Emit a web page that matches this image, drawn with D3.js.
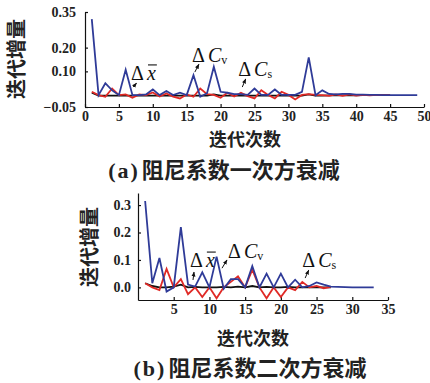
<!DOCTYPE html>
<html>
<head>
<meta charset="utf-8">
<script src="https://cdn.jsdelivr.net/npm/d3@7"></script>
<style>
  body { margin: 0; background: #fff; }
  svg { display: block; }
  .tick text { font-family: "Liberation Serif", serif; font-weight: bold; font-size: 14px; fill: #222; }
  .cjk { font-family: "Noto Sans CJK SC", sans-serif; font-weight: bold; fill: #222; }
  .lab { font-family: "Liberation Serif", serif; font-size: 20px; fill: #111; }
</style>
</head>
<body>
<div id="chart"></div>
<script>
// panel (a): 阻尼系数一次方衰减
var iterA = d3.range(1, 50);
var blueA = [0.32, 0.0, 0.05, 0.02, 0.0, 0.107, 0.0, 0.0, 0.003, 0.024, 0.0, 0.017, 0.0, 0.01, 0.0, 0.084, -0.007, 0.008, 0.119, 0.014, 0.01, 0.004, 0.004, 0.001, 0.028, 0.001, 0.001, 0.024, 0.001, 0.001, 0.001, 0.014, 0.159, 0.0, 0.02, 0.005, 0.003, 0.005, 0.005, 0.002, 0.002, 0.001, 0.001, 0.0, 0.0, 0.0, 0.0, 0.0, 0.0];
var redA = [0.014, 0.0, -0.007, 0.028, 0.0, 0.003, -0.011, 0.003, 0.0, 0.011, -0.006, 0.007, -0.006, -0.014, 0.003, -0.007, 0.028, 0.004, 0.001, -0.011, 0.01, -0.006, 0.01, -0.004, -0.014, 0.021, 0.001, -0.014, 0.014, 0.001, -0.018, 0.001, 0.004, 0.001, 0.0, -0.003, 0.003, -0.003, 0.003, -0.002, 0.001, -0.001, 0.001, 0.0, 0.0];
var blackA = [0.01, -0.002, -0.002, -0.002, -0.002, -0.002, -0.002, -0.002, -0.002, -0.002, -0.002, -0.002, -0.002, -0.002, -0.002, -0.002, -0.002, -0.002, 0.003, -0.002, -0.002, -0.002, -0.002, -0.002, -0.002, -0.002, -0.002, -0.002, -0.002, -0.002, -0.002, -0.002, 0.003, -0.002, -0.002, -0.001, -0.001, -0.001, -0.001, -0.001, 0.0, 0.0, 0.0, 0.0, 0.0];
var xTicksA = [0, 5, 10, 15, 20, 25, 30, 35, 40, 45, 50];
var yTicksA = [-0.05, 0.10, 0.20, 0.35];

// panel (b): 阻尼系数二次方衰减
var iterB = d3.range(1, 34);
var blueB = [0.315, 0.015, 0.107, -0.015, 0.0, 0.22, 0.01, 0.003, 0.055, 0.0, 0.112, -0.005, 0.03, 0.03, 0.0, 0.078, 0.0, 0.05, 0.0, 0.05, 0.0, 0.028, 0.0, 0.005, 0.018, 0.01, 0.003, 0.002, 0.001, 0.0, 0.0, 0.0, 0.0];
var redB = [0.015, 0.0, -0.01, 0.067, 0.0, 0.03, -0.025, 0.0, -0.035, 0.0, -0.04, 0.0, 0.02, 0.04, 0.0, 0.065, 0.0, -0.04, 0.0, -0.035, 0.0, -0.01, 0.02, 0.0, 0.005, -0.003, 0.002];
var blackB = [0.015, 0.005, 0.0, 0.0, 0.003, 0.01, 0.0, 0.002, 0.0, 0.0, 0.0, 0.002, 0.0, 0.003, 0.0, 0.005, 0.0, 0.002, 0.0, 0.0, 0.002, 0.0, 0.0, 0.0, 0.0, 0.0, 0.0];
var xTicksB = [5, 10, 15, 20, 25, 30, 35];
var yTicksB = [0.0, 0.1, 0.2, 0.3];

var W = 430, H = 383;
var svg = d3.select('#chart').append('svg').attr('width', W).attr('height', H);

svg.append('defs').append('marker')
  .attr('id', 'arr').attr('viewBox', '0 0 10 10').attr('refX', 9).attr('refY', 5)
  .attr('markerWidth', 5).attr('markerHeight', 5).attr('orient', 'auto')
  .append('path').attr('d', 'M0,1 L10,5 L0,9 Z').attr('fill', '#111');

function drawPanel(p) {
  var x = d3.scaleLinear().domain(p.xDomain).range(p.xRange);
  var y = d3.scaleLinear().domain(p.yDomain).range(p.yRange);
  var g = svg.append('g');

  // axes, ticks pointing inward
  g.append('g').attr('transform', 'translate(0,' + p.yRange[0] + ')')
    .call(d3.axisBottom(x).tickValues(p.xTicks).tickSizeInner(-3).tickSizeOuter(0).tickPadding(4));
  g.append('g').attr('transform', 'translate(' + p.xRange[0] + ',0)')
    .call(d3.axisLeft(y).tickValues(p.yTicks).tickFormat(p.yFmt).tickSizeInner(-3).tickSizeOuter(0).tickPadding(p.yPad));
  g.selectAll('.domain, .tick line').attr('stroke', '#111').attr('stroke-width', 1.2);

  var line = d3.line().x(function (d) { return x(d[0]); }).y(function (d) { return y(d[1]); });
  p.series.forEach(function (s) {
    var pts = s.values.map(function (v, i) { return [p.iter[i], v]; });
    g.append('path').datum(pts).attr('d', line)
      .attr('fill', 'none').attr('stroke', s.color).attr('stroke-width', 1.8)
      .attr('stroke-linejoin', 'miter');
  });

  // labels with small arrows
  p.notes.forEach(function (n) {
    g.append('line')
      .attr('x1', x(n.from[0])).attr('y1', y(n.from[1]))
      .attr('x2', x(n.to[0])).attr('y2', y(n.to[1]))
      .attr('stroke', '#111').attr('stroke-width', 1).attr('marker-end', 'url(#arr)');
    var t = g.append('text').attr('class', 'lab').attr('x', x(n.at[0])).attr('y', y(n.at[1]));
    t.append('tspan').text('Δ');
    if (n.kind === 'x') {
      t.append('tspan').attr('font-style', 'italic').attr('dx', 3).text('x');
      // overline above the x
      var box = t.node().getExtentOfChar(1);
      g.append('line')
        .attr('x1', box.x + 1).attr('x2', box.x + box.width + 1)
        .attr('y1', box.y + 3).attr('y2', box.y + 3)
        .attr('stroke', '#111').attr('stroke-width', 1.1);
    } else {
      t.append('tspan').attr('font-style', 'italic').attr('dx', 3).text('C');
      t.append('tspan').attr('font-size', 12).attr('dy', 2).text(n.sub);
    }
  });

  svg.append('text').attr('class', 'cjk').attr('font-size', 20)
    .attr('transform', 'translate(' + p.yTitle[0] + ',' + p.yTitle[1] + ') rotate(-90)')
    .attr('text-anchor', 'middle').attr('dy', '0.35em').text('迭代增量');
  svg.append('text').attr('class', 'cjk').attr('font-size', 18)
    .attr('x', p.xTitle[0]).attr('y', p.xTitle[1]).attr('text-anchor', 'middle').attr('dy', '0.35em')
    .text('迭代次数');
  var cap = svg.append('text').attr('class', 'cjk').attr('font-size', 22)
    .attr('x', p.caption[0]).attr('y', p.caption[1]).attr('text-anchor', 'middle').attr('dy', '0.35em');
  cap.append('tspan').attr('font-family', '"Liberation Serif", serif').attr('letter-spacing', 2).text('(' + p.tag + ')');
  cap.append('tspan').attr('dx', 2).text(p.capText);
}

drawPanel({
  iter: iterA,
  xDomain: [0, 50], xRange: [85, 424],
  yDomain: [-0.05, 0.35], yRange: [107, 12],
  xTicks: xTicksA, yTicks: yTicksA, yFmt: d3.format('.2f'), yPad: 9,
  series: [
    { values: blackA, color: '#111' },
    { values: redA, color: '#e02a26' },
    { values: blueA, color: '#2f3b98' }
  ],
  notes: [
    { kind: 'x', at: [6.8, 0.064], from: [7.1, 0.034], to: [7.6, 0.051] },
    { kind: 'C', sub: 'v', at: [15.8, 0.139], from: [16.2, 0.097], to: [16.8, 0.13] },
    { kind: 'C', sub: 's', at: [22.6, 0.08], from: [23.2, 0.034], to: [23.7, 0.068] }
  ],
  yTitle: [17, 59], xTitle: [245, 140], caption: [224, 170],
  tag: 'a', capText: '阻尼系数一次方衰减'
});

drawPanel({
  iter: iterB,
  xDomain: [0, 35], xRange: [138, 388],
  yDomain: [-0.046, 0.344], yRange: [300, 193],
  xTicks: xTicksB, yTicks: yTicksB, yFmt: d3.format('.1f'), yPad: 7,
  series: [
    { values: blackB, color: '#111' },
    { values: redB, color: '#e02a26' },
    { values: blueB, color: '#2f3b98' }
  ],
  notes: [
    { kind: 'x', at: [7.28, 0.074], from: [7.7, 0.027], to: [7.84, 0.056] },
    { kind: 'C', sub: 'v', at: [12.6, 0.107], from: [11.76, 0.07], to: [12.46, 0.1] },
    { kind: 'C', sub: 's', at: [23.0, 0.074], from: [23.4, 0.034], to: [23.9, 0.063] }
  ],
  yTitle: [90, 247], xTitle: [253, 339], caption: [250, 368],
  tag: 'b', capText: '阻尼系数二次方衰减'
});
</script>
</body>
</html>
